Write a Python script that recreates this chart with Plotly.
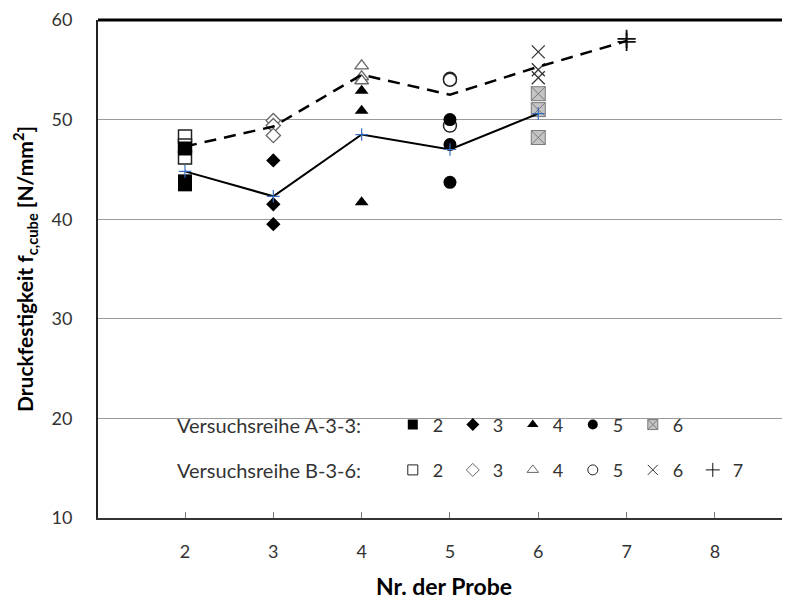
import plotly.graph_objects as go

# Nr. der Probe
probe_nr = [2, 3, 4, 5, 6, 7]
x_ticks = [2, 3, 4, 5, 6, 7, 8]
y_ticks = [10, 20, 30, 40, 50, 60]

# Versuchsreihe A-3-3, Einzelwerte je Probe
a_nr2 = [47.1, 43.8, 43.5]
a_nr3 = [45.9, 41.5, 39.5]
a_nr4 = [52.9, 50.9, 41.7]
a_nr5 = [50.0, 47.5, 43.7]
a_nr6 = [52.6, 51.0, 48.2]

# Versuchsreihe B-3-6, Einzelwerte je Probe
b_nr2 = [48.3, 47.4, 46.2]
b_nr3 = [49.9, 49.4, 48.4]
b_nr4 = [55.4, 54.3, 53.9]
b_nr5 = [54.1, 54.0, 49.4]
b_nr6 = [56.8, 55.0, 54.2]
b_nr7 = [58.1, 57.8]

# Mittelwerte
a_mittel = [44.8, 42.3, 48.5, 47.0, 50.6]
b_mittel = [47.3, 49.3, 54.5, 52.5, 55.3, 57.9]

FONT = "Lato"
TXT = "#333333"

a_werte = [a_nr2, a_nr3, a_nr4, a_nr5, a_nr6]
b_werte = [b_nr2, b_nr3, b_nr4, b_nr5, b_nr6, b_nr7]

# Markerstile (Symbol, Füllung, Randfarbe, Randbreite, Größe)
a_stil = [
    ("square", "black", "black", 0, 14),
    ("diamond", "black", "black", 0, 11),
    ("triangle-up", "black", "black", 0, 12),
    ("circle", "black", "black", 0, 13),
    ("square-x", "#c4c4c4", "#7a7a7a", 1, 14),
]
b_stil = [
    ("square", "white", "#222222", 1.5, 13),
    ("diamond", "white", "#666666", 1.3, 11),
    ("triangle-up", "white", "#666666", 1.3, 12),
    ("circle", "white", "#222222", 1.5, 13),
    ("x-thin", "#333333", "#333333", 1.3, 13),
    ("cross-thin", "#111111", "#111111", 1.8, 13),
]

fig = go.Figure()

# Einzelwerte B, dann A
for nr, werte, (sym, col, lcol, lw, size) in zip(probe_nr, b_werte, b_stil):
    fig.add_trace(go.Scatter(
        x=[nr] * len(werte), y=werte, mode="markers", showlegend=False,
        marker=dict(symbol=sym, color=col, size=size, line=dict(color=lcol, width=lw)),
    ))
for nr, werte, (sym, col, lcol, lw, size) in zip(probe_nr, a_werte, a_stil):
    fig.add_trace(go.Scatter(
        x=[nr] * len(werte), y=werte, mode="markers", showlegend=False,
        marker=dict(symbol=sym, color=col, size=size, line=dict(color=lcol, width=lw)),
    ))

# Mittelwertlinien
fig.add_trace(go.Scatter(
    x=probe_nr[:len(b_mittel)], y=b_mittel, mode="lines", showlegend=False,
    line=dict(color="black", width=2.5, dash="12px,8px"),
))
fig.add_trace(go.Scatter(
    x=probe_nr[:len(a_mittel)], y=a_mittel, mode="lines+markers", showlegend=False,
    line=dict(color="black", width=2),
    marker=dict(symbol="cross-thin", size=9, line=dict(color="#3a6fc0", width=1.2)),
))

# Legendeneinträge (nur Symbol)
for nr, (sym, col, lcol, lw, size) in zip(probe_nr, a_stil):
    fig.add_trace(go.Scatter(
        x=[None], y=[None], mode="markers", name=str(nr), legend="legend",
        marker=dict(symbol=sym, color=col, size=10, line=dict(color=lcol, width=min(lw, 1))),
    ))
for nr, (sym, col, lcol, lw, size) in zip(probe_nr, b_stil):
    fig.add_trace(go.Scatter(
        x=[None], y=[None], mode="markers", name=str(nr), legend="legend2",
        marker=dict(symbol=sym, color=col, size=10, line=dict(color=lcol, width=1)),
    ))

leg = dict(
    orientation="h", xref="paper", yref="paper", xanchor="left", yanchor="middle",
    bgcolor="rgba(0,0,0,0)", font=dict(family=FONT, size=18, color=TXT),
    entrywidth=15, entrywidthmode="pixels", itemwidth=30, traceorder="normal",
)

# Seite hat 8px Rand -> Figur etwas kleiner, damit keine Scrollbalken entstehen
fig.update_layout(
    width=782, height=597,
    margin=dict(l=90, r=0, t=12, b=87),
    paper_bgcolor="white", plot_bgcolor="white",
    font=dict(family=FONT, size=18, color=TXT),
    legend=dict(leg, x=0.426, y=0.187),
    legend2=dict(leg, x=0.426, y=0.096),
    xaxis=dict(
        range=[1.015, 8.85], tickvals=x_ticks, showgrid=False, zeroline=False,
        showline=True, linecolor="#333333", linewidth=2, automargin=False,
        ticks="inside", ticklen=6, tickcolor="#777777", tickwidth=1,
        ticklabelstandoff=16, tickfont=dict(size=18, color=TXT),
        title=dict(text="<b>Nr. der Probe</b>", font=dict(size=23, color="black"), standoff=18),
    ),
    yaxis=dict(
        range=[10, 60], tickvals=y_ticks, showgrid=True, gridcolor="#9a9a9a", gridwidth=1,
        zeroline=False, showline=True, linecolor="#222222", linewidth=2, automargin=False,
        ticks="", ticklabelstandoff=20, tickfont=dict(size=18, color=TXT),
        title=dict(text="<b>Druckfestigkeit f<sub>c,cube</sub> [N/mm<sup>2</sup>]</b>",
                   font=dict(size=21, color="black"), standoff=12),
    ),
    shapes=[
        dict(type="rect", xref="paper", yref="paper", x0=0.075, x1=0.94, y0=0.04, y1=0.24,
             fillcolor="white", line=dict(width=0), layer="between"),
        dict(type="line", xref="paper", yref="paper", x0=0, x1=1, y0=1, y1=1,
             line=dict(color="black", width=3)),
    ],
    annotations=[
        dict(text="Versuchsreihe A-3-3:", xref="paper", yref="paper", x=0.111, y=0.187,
             xanchor="left", yanchor="middle", showarrow=False, font=dict(size=20, color=TXT)),
        dict(text="Versuchsreihe B-3-6:", xref="paper", yref="paper", x=0.111, y=0.096,
             xanchor="left", yanchor="middle", showarrow=False, font=dict(size=20, color=TXT)),
    ],
)

fig.write_html("out.html")
